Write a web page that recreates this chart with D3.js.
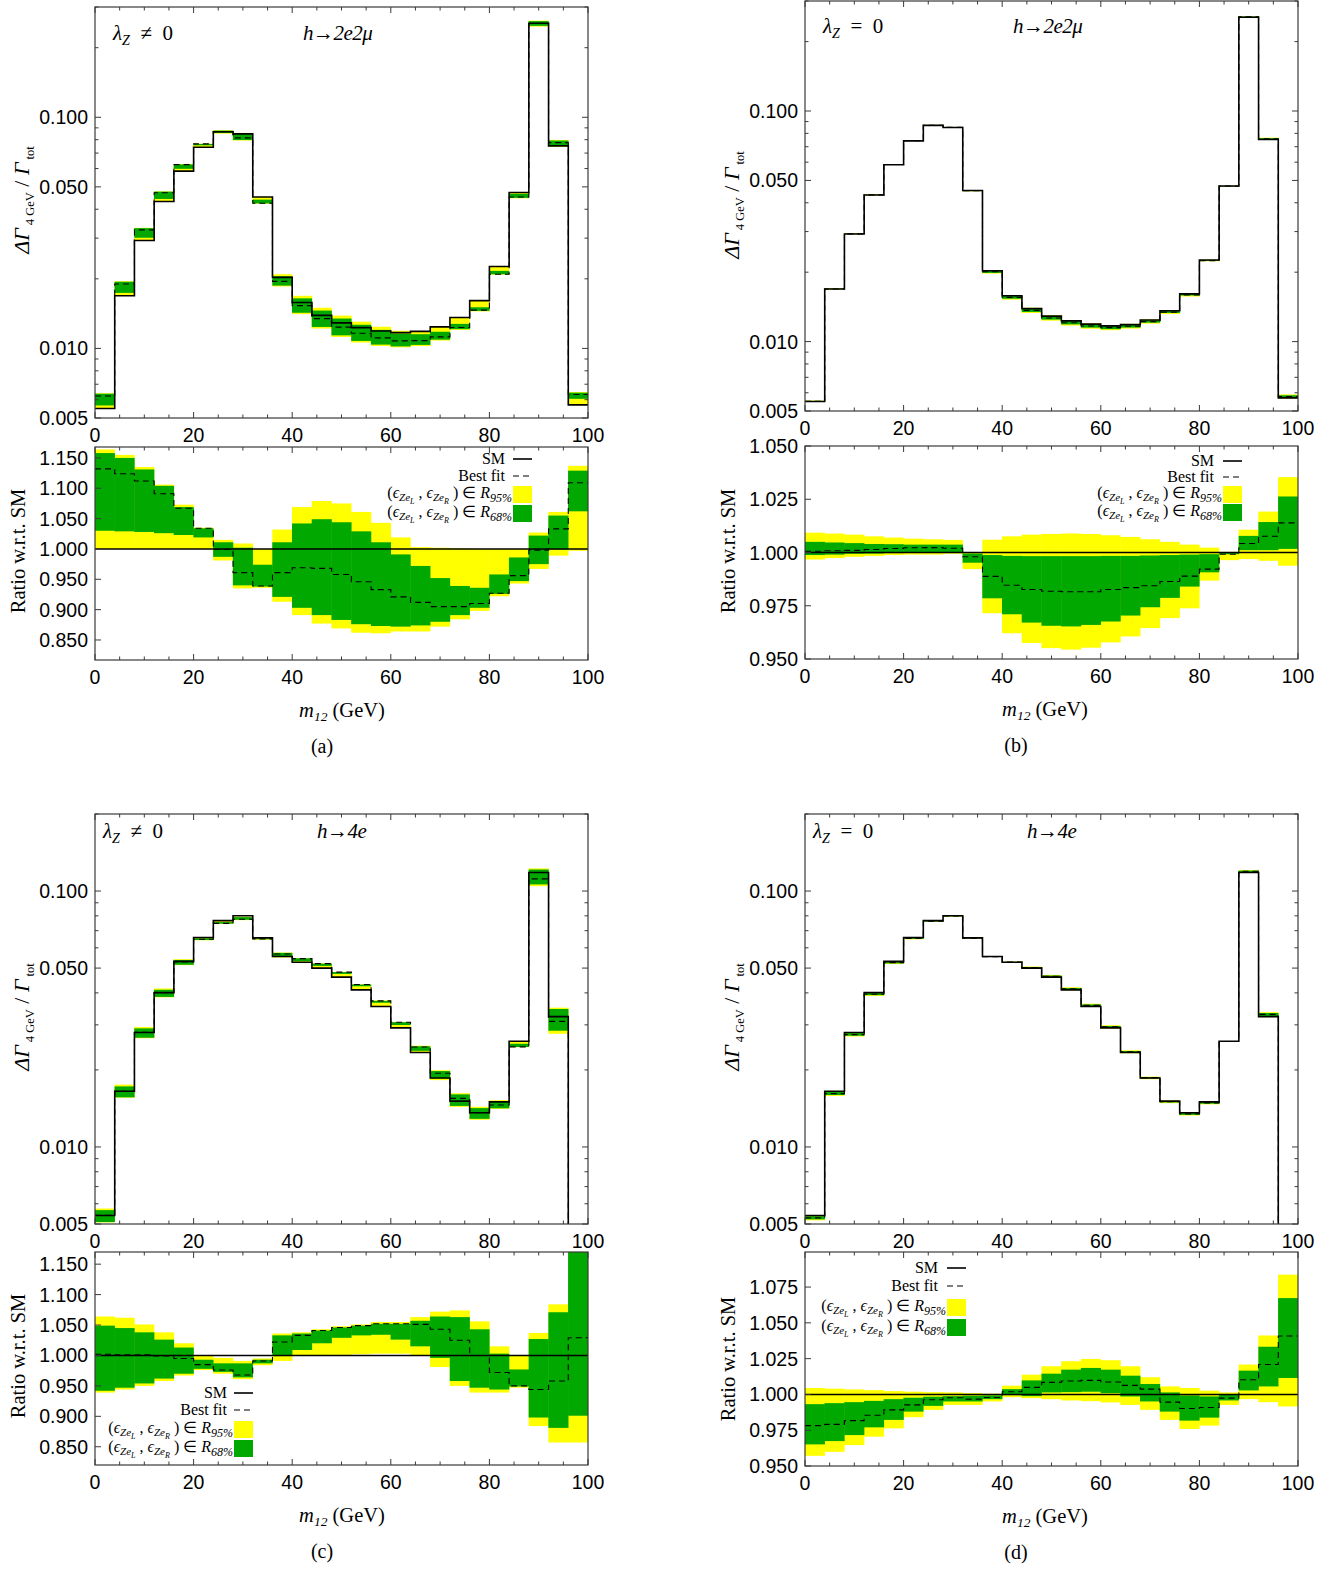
<!DOCTYPE html>
<html>
<head>
<meta charset="utf-8">
<script src="https://cdn.jsdelivr.net/npm/d3@7"></script>
<style>
body { margin: 0; background: #fff; }
</style>
</head>
<body>
<svg id="fig" width="1344" height="1569"></svg>
<script>
// m12 bins, 4 GeV wide
var binLo = [0, 4, 8, 12, 16, 20, 24, 28, 32, 36, 40, 44, 48, 52, 56, 60, 64, 68, 72, 76, 80, 84, 88, 92, 96];
var binW = 4;

// SM  dGamma(4 GeV)/Gamma_tot
var sm2e2mu = [0.0055, 0.0169, 0.0293, 0.0432, 0.0585, 0.0742, 0.0866, 0.0848, 0.0452, 0.0203, 0.0158, 0.0139, 0.0129,
               0.0123, 0.0119, 0.0117, 0.01185, 0.0124, 0.0136, 0.0161, 0.0226, 0.0473, 0.255, 0.0752, 0.0057];
var sm4e = [0.0054, 0.0165, 0.0280, 0.0401, 0.0531, 0.0658, 0.0766, 0.0801, 0.0656, 0.0555, 0.0527, 0.0500, 0.0461,
            0.0411, 0.0354, 0.0292, 0.0234, 0.0186, 0.0151, 0.0136, 0.0150, 0.0259, 0.1182, 0.0323, 0.003];

// (a) h->2e2mu, lambdaZ != 0 : ratio w.r.t. SM
var bestA = [1.132, 1.124, 1.112, 1.091, 1.067, 1.034, 0.999, 0.961, 0.939, 0.961, 0.969, 0.968, 0.958, 0.946, 0.933, 0.921, 0.912, 0.905, 0.905, 0.910, 0.927, 0.956, 0.998, 1.033, 1.109];
var hi95A = [1.164, 1.155, 1.135, 1.106, 1.073, 1.035, 1.015, 1.009, 1.000, 1.032, 1.069, 1.079, 1.075, 1.061, 1.043, 1.019, 1.003, 1.002, 1.001, 1.000, 1.000, 1.000, 1.027, 1.061, 1.137];
var lo95A = [1.000, 1.000, 1.000, 1.000, 1.000, 1.000, 0.981, 0.935, 0.936, 0.913, 0.891, 0.877, 0.869, 0.862, 0.861, 0.864, 0.864, 0.872, 0.884, 0.898, 0.922, 0.943, 0.967, 0.989, 0.997];
var hi68A = [1.158, 1.150, 1.131, 1.104, 1.069, 1.034, 1.011, 1.002, 0.974, 1.011, 1.042, 1.049, 1.044, 1.029, 1.011, 0.991, 0.972, 0.952, 0.939, 0.936, 0.958, 0.986, 1.022, 1.055, 1.129];
var lo68A = [1.030, 1.029, 1.028, 1.026, 1.023, 1.019, 0.987, 0.940, 0.938, 0.921, 0.903, 0.891, 0.883, 0.876, 0.873, 0.872, 0.874, 0.880, 0.891, 0.903, 0.926, 0.947, 0.975, 0.999, 1.062];

// (b) h->2e2mu, lambdaZ = 0
var bestB = [1.0006, 1.0008, 1.001, 1.0014, 1.0019, 1.0022, 1.0023, 1.002, 0.998, 0.9888, 0.9846, 0.9826, 0.9818, 0.9816, 0.9816, 0.9826, 0.9835, 0.9844, 0.9864, 0.9889, 0.9922, 0.9992, 1.0042, 1.0076, 1.0139];
var hi95B = [1.0093, 1.0089, 1.0084, 1.0076, 1.007, 1.0065, 1.0062, 1.0059, 1.0, 1.006, 1.0076, 1.0084, 1.0087, 1.0089, 1.0087, 1.0081, 1.0073, 1.0062, 1.005, 1.0037, 1.0023, 1.0003, 1.0107, 1.0192, 1.0354];
var lo95B = [0.9967, 0.9974, 0.998, 0.9984, 0.9988, 0.999, 0.999, 0.9994, 0.9922, 0.9715, 0.9621, 0.9575, 0.9551, 0.9544, 0.9553, 0.9578, 0.9606, 0.9645, 0.9692, 0.9738, 0.9868, 0.9964, 0.9969, 0.9961, 0.9938];
var hi68B = [1.005, 1.0047, 1.0044, 1.004, 1.0039, 1.0037, 1.0037, 1.0037, 0.9995, 0.9988, 0.9984, 0.9983, 0.9983, 0.9983, 0.9983, 0.9984, 0.9984, 0.9986, 0.9988, 0.999, 0.9992, 0.9998, 1.0078, 1.0143, 1.0263];
var lo68B = [0.9988, 0.999, 0.9994, 0.9995, 0.9997, 0.9998, 0.9998, 1.0, 0.9952, 0.9785, 0.971, 0.9671, 0.9656, 0.9653, 0.966, 0.9676, 0.9704, 0.9743, 0.9787, 0.984, 0.9907, 0.9992, 1.0011, 1.0011, 1.0017];

// (c) h->4e, lambdaZ != 0
var bestC = [1.002, 1.001, 1.001, 0.999, 0.995, 0.985, 0.976, 0.968, 0.991, 1.022, 1.033, 1.041, 1.046, 1.049, 1.052, 1.052, 1.051, 1.043, 1.025, 1.000, 0.972, 0.950, 0.944, 0.958, 1.029];
var hi95C = [1.064, 1.062, 1.051, 1.038, 1.020, 0.999, 0.996, 0.991, 0.995, 1.036, 1.038, 1.043, 1.048, 1.051, 1.055, 1.055, 1.063, 1.072, 1.074, 1.056, 1.015, 1.000, 1.037, 1.084, 1.25];
var lo95C = [0.939, 0.944, 0.950, 0.958, 0.967, 0.976, 0.970, 0.961, 0.984, 0.991, 1.000, 1.000, 1.001, 1.002, 1.003, 1.003, 1.000, 0.981, 0.950, 0.939, 0.939, 0.947, 0.884, 0.857, 0.857];
var hi68C = [1.049, 1.045, 1.038, 1.026, 1.013, 0.993, 0.987, 0.987, 0.993, 1.033, 1.036, 1.041, 1.046, 1.049, 1.052, 1.052, 1.057, 1.064, 1.063, 1.043, 1.003, 0.977, 1.027, 1.071, 1.22];
var lo68C = [0.942, 0.947, 0.954, 0.962, 0.970, 0.978, 0.973, 0.964, 0.987, 0.999, 1.009, 1.020, 1.029, 1.033, 1.034, 1.026, 1.015, 0.996, 0.958, 0.947, 0.944, 0.949, 0.898, 0.881, 0.901];

// (d) h->4e, lambdaZ = 0
var bestD = [0.9782, 0.9791, 0.9817, 0.9855, 0.9892, 0.9927, 0.9963, 0.9977, 0.9967, 0.9979, 1.0019, 1.0049, 1.0084, 1.0094, 1.0098, 1.0087, 1.0063, 1.0037, 0.9946, 0.9902, 0.9909, 0.9974, 1.0103, 1.0209, 1.0408];
var hi95D = [1.0045, 1.004, 1.0035, 1.003, 1.0023, 1.0019, 1.0016, 1.0014, 1.0009, 1.0005, 1.0061, 1.0138, 1.0197, 1.0232, 1.0248, 1.0239, 1.0197, 1.012, 1.0056, 1.0045, 1.0026, 1.0014, 1.0209, 1.0412, 1.0837];
var lo95D = [0.9571, 0.9599, 0.9646, 0.9705, 0.9763, 0.9841, 0.9892, 0.9927, 0.9927, 0.9951, 0.9981, 0.9974, 0.9967, 0.9958, 0.9953, 0.9944, 0.9927, 0.9892, 0.9822, 0.9759, 0.9782, 0.9927, 0.9967, 0.9946, 0.9916];
var hi68D = [0.9932, 0.9939, 0.9946, 0.9955, 0.9967, 0.9977, 0.9984, 0.9988, 0.9991, 0.9993, 1.0037, 1.0098, 1.0145, 1.0173, 1.0185, 1.0173, 1.0131, 1.0073, 1.0014, 0.9993, 0.9986, 0.9998, 1.0166, 1.0333, 1.0673];
var lo68D = [0.9651, 0.9674, 0.9716, 0.977, 0.9822, 0.988, 0.992, 0.9951, 0.9951, 0.9967, 0.9995, 0.9988, 1.0014, 1.0016, 1.0019, 1.0009, 0.9986, 0.9951, 0.988, 0.9817, 0.9838, 0.9958, 1.0028, 1.0056, 1.0115];

// tick labels
var xTicks = [0, 20, 40, 60, 80, 100];
var logTicks = [0.005, 0.010, 0.050, 0.100];
var ratioTicksAC = [0.85, 0.90, 0.95, 1.00, 1.05, 1.10, 1.15];
var ratioTicksB = [0.950, 0.975, 1.000, 1.025, 1.050];
var ratioTicksD = [0.950, 0.975, 1.000, 1.025, 1.050, 1.075];

var SERIF = "'Liberation Serif', 'Times New Roman', serif";
var SANS = "'Liberation Sans', Arial, sans-serif";
var YEL = "#ffff00", GRN = "#00a800", FRAME = "#3a3a3a";
var NB = "\u00a0";

var svg = d3.select("svg#fig");

var panels = [
    {id: "a", x0: 95, x1: 588, top: [7, 418], rat: [447, 660], logMax: 0.3, ratDom: [0.817, 1.168],
     sm: sm2e2mu, best: bestA, hi95: hi95A, lo95: lo95A, hi68: hi68A, lo68: lo68A, rTicks: ratioTicksAC,
     lam: NB + NB + "\u2260" + NB + NB + "0", proc: "h\u21922e2\u03bc", lamX: 113, procX: 303, lblY: 40,
     leg: {xr: 505, xs: 513, rows: [459, 476, 495, 514]},
     ttlTop: 200, ttlRat: 551, xTtl: 342, cap: "(a)", capX: 322, bottom: 660},
    {id: "b", x0: 805, x1: 1298, top: [1, 411], rat: [446, 659], logMax: 0.3, ratDom: [0.95, 1.05],
     sm: sm2e2mu, best: bestB, hi95: hi95B, lo95: lo95B, hi68: hi68B, lo68: lo68B, rTicks: ratioTicksB,
     lam: NB + NB + "=" + NB + NB + "0", proc: "h\u21922e2\u03bc", lamX: 823, procX: 1013, lblY: 33,
     leg: {xr: 1214, xs: 1223, rows: [461, 477, 495, 513]},
     ttlTop: 205, ttlRat: 551, xTtl: 1045, cap: "(b)", capX: 1016, bottom: 659},
    {id: "c", x0: 95, x1: 588, top: [814, 1224], rat: [1252, 1465], logMax: 0.2, ratDom: [0.82, 1.17],
     sm: sm4e, best: bestC, hi95: hi95C, lo95: lo95C, hi68: hi68C, lo68: lo68C, rTicks: ratioTicksAC,
     lam: NB + NB + "\u2260" + NB + NB + "0", proc: "h\u21924e", lamX: 103, procX: 317, lblY: 838,
     leg: {xr: 227, xs: 234, rows: [1393, 1410, 1430, 1449]},
     ttlTop: 1017, ttlRat: 1356, xTtl: 342, cap: "(c)", capX: 322, bottom: 1465},
    {id: "d", x0: 805, x1: 1298, top: [814, 1224], rat: [1252, 1466], logMax: 0.2, ratDom: [0.95, 1.0995],
     sm: sm4e, best: bestD, hi95: hi95D, lo95: lo95D, hi68: hi68D, lo68: lo68D, rTicks: ratioTicksD,
     lam: NB + NB + "=" + NB + NB + "0", proc: "h\u21924e", lamX: 813, procX: 1027, lblY: 838,
     leg: {xr: 938, xs: 947, rows: [1268, 1286, 1308, 1328]},
     ttlTop: 1017, ttlRat: 1359, xTtl: 1045, cap: "(d)", capX: 1016, bottom: 1466}
];

function stepPoints(vals) {
    var pts = binLo.map(function (b, i) { return [b, vals[i]]; });
    pts.push([binLo[binLo.length - 1] + binW, vals[vals.length - 1]]);
    return pts;
}

function drawBands(g, x, y, lo, hi, color, scale) {
    g.selectAll(null)
        .data(binLo)
        .enter()
        .append("rect")
        .attr("x", function (d) { return x(d) - 0.2; })
        .attr("width", function (d) { return x(d + binW) - x(d) + 0.4; })
        .attr("y", function (d, i) { return y(hi[i] * (scale ? scale[i] : 1)); })
        .attr("height", function (d, i) {
            var s = scale ? scale[i] : 1;
            return Math.max(0.5, y(lo[i] * s) - y(hi[i] * s));
        })
        .attr("fill", color);
}

function xFrameTicks(g, x, yb, yt) {
    d3.range(0, 101, 5).forEach(function (t) {
        var len = (t % 20 === 0) ? 6 : 3.5;
        g.append("line").attr("x1", x(t)).attr("x2", x(t)).attr("y1", yb).attr("y2", yb - len);
        g.append("line").attr("x1", x(t)).attr("x2", x(t)).attr("y1", yt).attr("y2", yt + len);
    });
}

function epsLabel(t, sub) {
    t.append("tspan").text("(");
    t.append("tspan").attr("font-style", "italic").text("\u03f5");
    t.append("tspan").attr("font-style", "italic").attr("font-size", 11).attr("dy", 3).text("Ze");
    t.append("tspan").attr("font-style", "italic").attr("font-size", 8).attr("dy", 2.5).text("L");
    t.append("tspan").attr("dy", -5.5).text(" , ");
    t.append("tspan").attr("font-style", "italic").text("\u03f5");
    t.append("tspan").attr("font-style", "italic").attr("font-size", 11).attr("dy", 3).text("Ze");
    t.append("tspan").attr("font-style", "italic").attr("font-size", 8).attr("dy", 2.5).text("R");
    t.append("tspan").attr("dy", -5.5).text(" ) \u2208 ");
    t.append("tspan").attr("font-style", "italic").text("R");
    t.append("tspan").attr("font-style", "italic").attr("font-size", 12).attr("dy", 4).text(sub);
}

function drawPanel(p) {
    var x = d3.scaleLinear().domain([0, 100]).range([p.x0, p.x1]);
    var yT = d3.scaleLog().domain([0.005, p.logMax]).range([p.top[1], p.top[0]]);
    var yR = d3.scaleLinear().domain(p.ratDom).range([p.rat[1], p.rat[0]]);

    var defs = svg.append("defs");
    defs.append("clipPath").attr("id", "clipT" + p.id).append("rect")
        .attr("x", p.x0).attr("y", p.top[0]).attr("width", p.x1 - p.x0).attr("height", p.top[1] - p.top[0]);
    defs.append("clipPath").attr("id", "clipR" + p.id).append("rect")
        .attr("x", p.x0).attr("y", p.rat[0]).attr("width", p.x1 - p.x0).attr("height", p.rat[1] - p.rat[0]);

    var step = d3.line().curve(d3.curveStepAfter);

    // ---------- top: distribution ----------
    var gt = svg.append("g").attr("clip-path", "url(#clipT" + p.id + ")");
    drawBands(gt, x, yT, p.lo95, p.hi95, YEL, p.sm);
    drawBands(gt, x, yT, p.lo68, p.hi68, GRN, p.sm);
    var fitTop = p.sm.map(function (v, i) { return v * p.best[i]; });
    gt.append("path")
        .attr("d", step.x(function (d) { return x(d[0]); }).y(function (d) { return yT(d[1]); })(stepPoints(p.sm)))
        .attr("fill", "none").attr("stroke", "#000").attr("stroke-width", 1.6);
    gt.append("path")
        .attr("d", step(stepPoints(fitTop)))
        .attr("fill", "none").attr("stroke", "#000").attr("stroke-width", 1.1).attr("stroke-dasharray", "6,4");

    var tk = svg.append("g").attr("stroke", FRAME).attr("stroke-width", 1);
    xFrameTicks(tk, x, p.top[1], p.top[0]);
    yT.ticks().forEach(function (t) {
        var major = logTicks.some(function (m) { return Math.abs(m - t) < 1e-9; });
        var len = major ? 6 : 3.5;
        tk.append("line").attr("x1", p.x0).attr("x2", p.x0 + len).attr("y1", yT(t)).attr("y2", yT(t));
        tk.append("line").attr("x1", p.x1).attr("x2", p.x1 - len).attr("y1", yT(t)).attr("y2", yT(t));
    });
    svg.append("rect").attr("x", p.x0).attr("y", p.top[0]).attr("width", p.x1 - p.x0).attr("height", p.top[1] - p.top[0])
        .attr("fill", "none").attr("stroke", FRAME).attr("stroke-width", 1.2);

    svg.append("g").selectAll("text").data(logTicks).enter().append("text")
        .attr("x", p.x0 - 7).attr("y", function (d) { return yT(d); }).attr("dy", "0.36em")
        .attr("text-anchor", "end").attr("font-family", SANS).attr("font-size", 19.5)
        .text(d3.format(".3f"));
    svg.append("g").selectAll("text").data(xTicks).enter().append("text")
        .attr("x", function (d) { return x(d); }).attr("y", p.top[1] + 24)
        .attr("text-anchor", "middle").attr("font-family", SANS).attr("font-size", 19.5)
        .text(function (d) { return d; });

    // panel labels
    var lt = svg.append("text").attr("x", p.lamX).attr("y", p.lblY)
        .attr("font-family", SERIF).attr("font-size", 21);
    lt.append("tspan").attr("font-style", "italic").text("\u03bb");
    lt.append("tspan").attr("font-style", "italic").attr("font-size", 14).attr("dy", 5).text("Z");
    lt.append("tspan").attr("dy", -5).text(p.lam);
    svg.append("text").attr("x", p.procX).attr("y", p.lblY)
        .attr("font-family", SERIF).attr("font-size", 21).attr("font-style", "italic")
        .attr("letter-spacing", -0.5)
        .text(p.proc);

    // y title (top)
    var yt = svg.append("text")
        .attr("transform", "translate(" + (p.x0 - 66) + "," + p.ttlTop + ") rotate(-90)")
        .attr("text-anchor", "middle").attr("font-family", SERIF).attr("font-size", 22);
    yt.append("tspan").attr("font-style", "italic").text("\u0394\u0393");
    yt.append("tspan").attr("font-size", 12.5).attr("dy", 5).text(NB + "4" + NB + "GeV");
    yt.append("tspan").attr("dy", -5).text(NB + "/" + NB);
    yt.append("tspan").attr("font-style", "italic").text("\u0393");
    yt.append("tspan").attr("font-size", 12.5).attr("dy", 5).text(NB + "tot");

    // ---------- bottom: ratio ----------
    var gr = svg.append("g").attr("clip-path", "url(#clipR" + p.id + ")");
    drawBands(gr, x, yR, p.lo95, p.hi95, YEL, null);
    drawBands(gr, x, yR, p.lo68, p.hi68, GRN, null);
    gr.append("line").attr("x1", p.x0).attr("x2", p.x1).attr("y1", yR(1)).attr("y2", yR(1))
        .attr("stroke", "#000").attr("stroke-width", 1.6);
    gr.append("path")
        .attr("d", d3.line().curve(d3.curveStepAfter)
            .x(function (d) { return x(d[0]); }).y(function (d) { return yR(d[1]); })(stepPoints(p.best)))
        .attr("fill", "none").attr("stroke", "#000").attr("stroke-width", 1.1).attr("stroke-dasharray", "6,4");

    var tr = svg.append("g").attr("stroke", FRAME).attr("stroke-width", 1);
    xFrameTicks(tr, x, p.rat[1], p.rat[0]);
    p.rTicks.forEach(function (t) {
        tr.append("line").attr("x1", p.x0).attr("x2", p.x0 + 6).attr("y1", yR(t)).attr("y2", yR(t));
    });
    svg.append("rect").attr("x", p.x0).attr("y", p.rat[0]).attr("width", p.x1 - p.x0).attr("height", p.rat[1] - p.rat[0])
        .attr("fill", "none").attr("stroke", FRAME).attr("stroke-width", 1.2);

    svg.append("g").selectAll("text").data(p.rTicks).enter().append("text")
        .attr("x", p.x0 - 7).attr("y", function (d) { return yR(d); }).attr("dy", "0.36em")
        .attr("text-anchor", "end").attr("font-family", SANS).attr("font-size", 19.5)
        .text(d3.format(".3f"));
    svg.append("g").selectAll("text").data(xTicks).enter().append("text")
        .attr("x", function (d) { return x(d); }).attr("y", p.rat[1] + 24)
        .attr("text-anchor", "middle").attr("font-family", SANS).attr("font-size", 19.5)
        .text(function (d) { return d; });

    svg.append("text")
        .attr("transform", "translate(" + (p.x0 - 70) + "," + p.ttlRat + ") rotate(-90)")
        .attr("text-anchor", "middle").attr("font-family", SERIF).attr("font-size", 20.5)
        .text("Ratio w.r.t. SM");

    // legend
    var L = p.leg;
    var lg = svg.append("g").attr("font-family", SERIF).attr("font-size", 16);
    lg.append("text").attr("x", L.xr).attr("y", L.rows[0] + 5).attr("text-anchor", "end").text("SM");
    lg.append("line").attr("x1", L.xs).attr("x2", L.xs + 19).attr("y1", L.rows[0]).attr("y2", L.rows[0])
        .attr("stroke", "#000").attr("stroke-width", 1.6);
    lg.append("text").attr("x", L.xr).attr("y", L.rows[1] + 5).attr("text-anchor", "end").text("Best fit");
    lg.append("line").attr("x1", L.xs).attr("x2", L.xs + 19).attr("y1", L.rows[1]).attr("y2", L.rows[1])
        .attr("stroke", "#000").attr("stroke-width", 1.1).attr("stroke-dasharray", "6,4");
    epsLabel(lg.append("text").attr("x", L.xs - 1).attr("y", L.rows[2] + 3).attr("text-anchor", "end"), "95%");
    lg.append("rect").attr("x", L.xs).attr("y", L.rows[2] - 9).attr("width", 19).attr("height", 17).attr("fill", YEL);
    epsLabel(lg.append("text").attr("x", L.xs - 1).attr("y", L.rows[3] + 3).attr("text-anchor", "end"), "68%");
    lg.append("rect").attr("x", L.xs).attr("y", L.rows[3] - 9).attr("width", 19).attr("height", 17).attr("fill", GRN);

    // x title and caption
    var xt = svg.append("text").attr("x", p.xTtl).attr("y", p.bottom + 57)
        .attr("text-anchor", "middle").attr("font-family", SERIF).attr("font-size", 20.5);
    xt.append("tspan").attr("font-style", "italic").text("m");
    xt.append("tspan").attr("font-style", "italic").attr("font-size", 13.5).attr("dy", 4).text("12");
    xt.append("tspan").attr("dy", -4).text(NB + "(GeV)");
    svg.append("text").attr("x", p.capX).attr("y", p.bottom + 93)
        .attr("text-anchor", "middle").attr("font-family", SERIF).attr("font-size", 20)
        .text(p.cap);
}

panels.forEach(drawPanel);
</script>
</body>
</html>
